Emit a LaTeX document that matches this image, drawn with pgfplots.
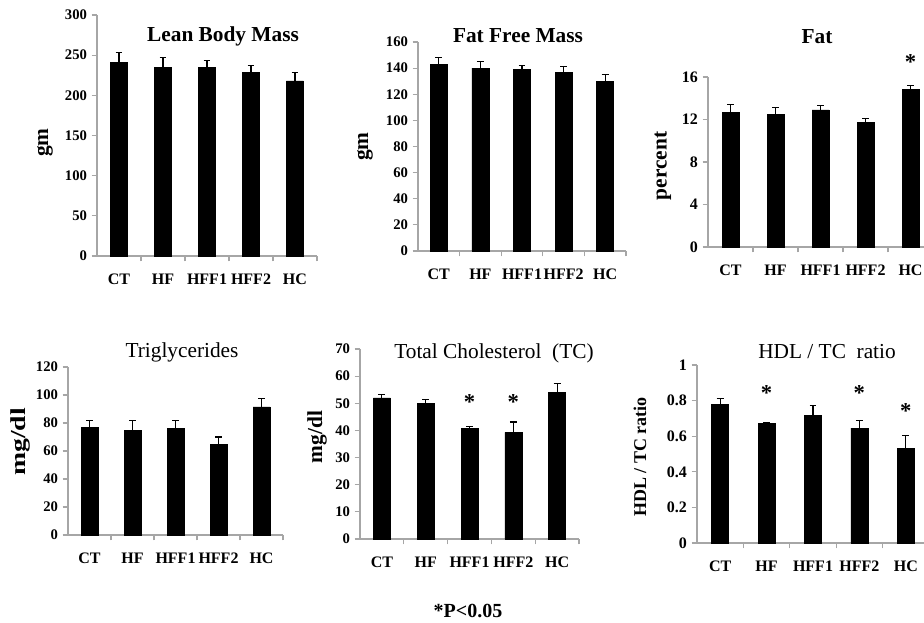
\documentclass[border=0pt]{standalone}
\usepackage{fontspec}
\setmainfont{Liberation Serif}
\usepackage{pgfplots}
\pgfplotsset{compat=1.18}

\pgfplotsset{
 panel/.style={
  scale only axis, anchor=south west,
  axis lines=left,
  axis line style={draw=black!35, line width=0.8pt, -},
  every tick/.style={draw=black!35, line width=0.8pt},
  xmin=-0.5, xmax=4.5, ymin=0,
  xtick={0,1,2,3,4}, xticklabels={CT,HF,HFF1,HFF2,HC},
  major x tick style={draw=none},
  minor xtick={0.5,1.5,2.5,3.5,4.5},
  tick align=outside, major tick length=4pt, minor tick length=4pt,
  /pgf/number format/assume math mode=true,
  yticklabel style={font=\bfseries\fontsize{11}{13}\selectfont},
  xticklabel style={font=\bfseries\fontsize{12}{14}\selectfont, yshift=-6pt},
  ybar, bar width=12.75pt,
  clip=false,
 },
 bars/.style={fill=black, draw=black,
  error bars/.cd, y dir=plus, y explicit,
  error bar style={line width=0.8pt, black},
  error mark options={rotate=90, mark size=2.6pt, line width=0.8pt, black}},
}
\tikzset{
 ttl/.style={font=\fontsize{16}{18}\selectfont},
 ttlb/.style={font=\bfseries\fontsize{16}{18}\selectfont},
 ylab/.style={rotate=90, font=\bfseries\fontsize{16}{18}\selectfont},
 star/.style={font=\bfseries\fontsize{17}{19}\selectfont}
}

\begin{document}
\begin{tikzpicture}
\path[use as bounding box] (0pt,0pt) rectangle (693pt,-466.5pt);

% Panel 1: Lean Body Mass
\begin{axis}[panel, at={(72.75pt,-192pt)}, width=165pt, height=180.75pt,
  ymax=300, ytick={0,50,100,150,200,250,300}]
\addplot[bars] coordinates {(0,241) +- (0,12) (1,235) +- (0,12) (2,235) +- (0,8) (3,229) +- (0,8) (4,218) +- (0,11)};
\end{axis}
\node[ttlb] at (167.25pt,-27pt) {Lean Body Mass};
\node[ylab] at (33.75pt,-107pt) {gm};

% Panel 2: Fat Free Mass
\begin{axis}[panel, at={(313.5pt,-188.25pt)}, width=156pt, height=156.75pt,
  ymax=160, ytick={0,20,40,60,80,100,120,140,160}]
\addplot[bars] coordinates {(0,143) +- (0,5) (1,140) +- (0,5) (2,139) +- (0,3) (3,137) +- (0,4) (4,130) +- (0,5)};
\end{axis}
\node[ttlb] at (388.5pt,-27pt) {Fat Free Mass};
\node[ylab] at (273.75pt,-110pt) {gm};

% Panel 3: Fat
\begin{axis}[panel, at={(531pt,-185.25pt)}, width=168.75pt, height=127.5pt,
  ymax=16, ytick={0,4,8,12,16},
  yticklabel style={font=\bfseries\fontsize{12}{14}\selectfont}]
\addplot[bars] coordinates {(0,12.7) +- (0,0.7) (1,12.5) +- (0,0.6) (2,12.9) +- (0,0.4) (3,11.7) +- (0,0.4) (4,14.8) +- (0,0.4)};
\node[star] at (axis cs:4,17.4) {*};
\end{axis}
\node[ttlb] at (612.75pt,-27.75pt) {Fat};
\node[ylab] at (497.25pt,-124.5pt) {percent};

% Panel 4: Triglycerides
\begin{axis}[panel, at={(51pt,-401.25pt)}, width=161.25pt, height=126pt,
  ymax=120, ytick={0,20,40,60,80,100,120}]
\addplot[bars] coordinates {(0,77) +- (0,5) (1,74.5) +- (0,7.5) (2,76) +- (0,6) (3,64.5) +- (0,5.5) (4,91.5) +- (0,6)};
\end{axis}
\node[ttl] at (136.5pt,-264pt) {Triglycerides};
\node[ylab] at (15pt,-331.5pt) {\scalebox{1.3}[1]{mg/dl}};

% Panel 5: Total Cholesterol
\begin{axis}[panel, at={(270pt,-404.25pt)}, width=164.25pt, height=142.5pt,
  ymax=70, ytick={0,10,20,30,40,50,60,70}]
\addplot[bars] coordinates {(0,52) +- (0,1.4) (1,50) +- (0,1.5) (2,40.7) +- (0,0.8) (3,39.3) +- (0,3.8) (4,54) +- (0,3.2)};
\node[star] at (axis cs:2,50.5) {*};
\node[star] at (axis cs:3,50.5) {*};
\end{axis}
\node[ttl] at (370.5pt,-264.75pt) {Total Cholesterol\ \ (TC)};
\node[ylab] at (237.75pt,-327.75pt) {mg/dl};

% Panel 6: HDL / TC ratio
\begin{axis}[panel, at={(522.75pt,-407.25pt)}, width=174pt, height=133.5pt,
  ymax=1, ytick={0,0.2,0.4,0.6,0.8,1},
  yticklabel style={font=\bfseries\fontsize{12}{14}\selectfont}]
\addplot[bars] coordinates {(0,0.78) +- (0,0.03) (1,0.67) +- (0,0.006) (2,0.715) +- (0,0.055) (3,0.645) +- (0,0.045) (4,0.53) +- (0,0.075)};
\node[star] at (axis cs:1,0.84) {*};
\node[star] at (axis cs:3,0.84) {*};
\node[star] at (axis cs:4,0.74) {*};
\end{axis}
\node[ttl] at (620.25pt,-264pt) {HDL / TC\ \ ratio};
\node[ylab, font=\bfseries\fontsize{13.5}{15}\selectfont] at (480pt,-342.75pt) {HDL / TC ratio};

\node[font=\bfseries\fontsize{15}{17}\selectfont] at (351pt,-458pt) {*P<0.05};
\end{tikzpicture}
\end{document}
